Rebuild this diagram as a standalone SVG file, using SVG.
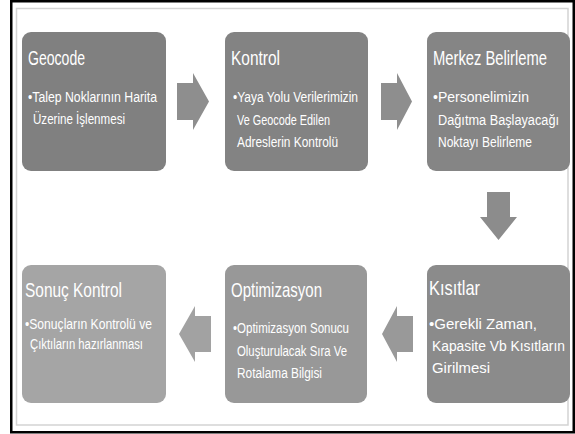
<svg xmlns="http://www.w3.org/2000/svg" width="575" height="434" viewBox="0 0 575 434">
<style>
.box{stroke:none}
.t{font-family:"Liberation Sans",Arial,sans-serif;fill:#ffffff;font-size:21px}
.b{font-family:"Liberation Sans",Arial,sans-serif;fill:#ffffff;font-size:14px}
.arr{stroke:none}
</style>
<rect x="0" y="0" width="575" height="434" fill="#ffffff"/>
<rect x="11.25" y="1.25" width="562.5" height="431" fill="none" stroke="#000000" stroke-width="2.5"/>
<rect x="16.5" y="8.5" width="551.5" height="416.5" fill="none" stroke="#d3d3d3" stroke-width="1.5"/>

<g id="connectors">
  <polygon class="arr" fill="#8e8e8e" points="177,83 193,83 193,73 209,101.5 193,130 193,120 177,120"/>
  <polygon class="arr" fill="#8e8e8e" points="381,83 397,83 397,73 412,101.5 397,130 397,120 381,120"/>
  <polygon class="arr" fill="#8c8c8c" points="487,192 510,192 510,217 517,217 498.5,240 480,217 487,217"/>
  <polygon class="arr" fill="#999999" points="413,316 397,316 397,306 382,334 397,362 397,352 413,352"/>
  <polygon class="arr" fill="#a2a2a2" points="211,316 195,316 195,306 179,334 195,362 195,352 211,352"/>
</g>

<g id="geocode">
  <rect class="box" x="22" y="32" width="144" height="139" rx="9" fill="#808080"/>
  <text class="t" x="28" y="65" textLength="57" lengthAdjust="spacingAndGlyphs">Geocode</text>
  <text class="b" x="28" y="102" textLength="129" lengthAdjust="spacingAndGlyphs">•Talep Noklarının Harita</text>
  <text class="b" x="33" y="124" textLength="92" lengthAdjust="spacingAndGlyphs">Üzerine İşlenmesi</text>
</g>

<g id="kontrol">
  <rect class="box" x="225" y="32" width="143" height="139" rx="9" fill="#838383"/>
  <text class="t" x="231" y="65" textLength="49" lengthAdjust="spacingAndGlyphs">Kontrol</text>
  <text class="b" x="233" y="102" textLength="125" lengthAdjust="spacingAndGlyphs">•Yaya Yolu Verilerimizin</text>
  <text class="b" x="237" y="124.5" textLength="93" lengthAdjust="spacingAndGlyphs">Ve Geocode  Edilen</text>
  <text class="b" x="237" y="147" textLength="101" lengthAdjust="spacingAndGlyphs">Adreslerin Kontrolü</text>
</g>

<g id="merkez">
  <rect class="box" x="427" y="32" width="143" height="139" rx="9" fill="#858585"/>
  <text class="t" x="433" y="65" textLength="114" lengthAdjust="spacingAndGlyphs">Merkez Belirleme</text>
  <text class="b" x="433" y="102" textLength="96" lengthAdjust="spacingAndGlyphs">•Personelimizin</text>
  <text class="b" x="438" y="124.5" textLength="121" lengthAdjust="spacingAndGlyphs">Dağıtma Başlayacağı</text>
  <text class="b" x="438" y="147" textLength="94" lengthAdjust="spacingAndGlyphs">Noktayı Belirleme</text>
</g>

<g id="kisitlar">
  <rect class="box" x="427" y="265" width="143" height="138" rx="9" fill="#8b8b8b"/>
  <text class="t" x="429" y="295" textLength="51" lengthAdjust="spacingAndGlyphs">Kısıtlar</text>
  <text class="b" x="429" y="329" textLength="108" lengthAdjust="spacingAndGlyphs">•Gerekli Zaman,</text>
  <text class="b" x="432" y="351" textLength="133" lengthAdjust="spacingAndGlyphs">Kapasite Vb Kısıtların</text>
  <text class="b" x="432" y="373" textLength="58" lengthAdjust="spacingAndGlyphs">Girilmesi</text>
</g>

<g id="optimizasyon">
  <rect class="box" x="225" y="265" width="142" height="138" rx="9" fill="#989898"/>
  <text class="t" x="231" y="297" textLength="91" lengthAdjust="spacingAndGlyphs">Optimizasyon</text>
  <text class="b" x="233" y="333" textLength="116" lengthAdjust="spacingAndGlyphs">•Optimizasyon Sonucu</text>
  <text class="b" x="237" y="355.5" textLength="110" lengthAdjust="spacingAndGlyphs">Oluşturulacak Sıra Ve</text>
  <text class="b" x="237" y="378" textLength="85" lengthAdjust="spacingAndGlyphs">Rotalama Bilgisi</text>
</g>

<g id="sonuc">
  <rect class="box" x="22" y="265" width="144" height="138" rx="9" fill="#a5a5a5"/>
  <text class="t" x="25" y="297" textLength="97" lengthAdjust="spacingAndGlyphs">Sonuç Kontrol</text>
  <text class="b" x="25" y="329" textLength="127" lengthAdjust="spacingAndGlyphs">•Sonuçların Kontrolü ve</text>
  <text class="b" x="30" y="349" textLength="113" lengthAdjust="spacingAndGlyphs">Çıktıların hazırlanması</text>
</g>
</svg>
